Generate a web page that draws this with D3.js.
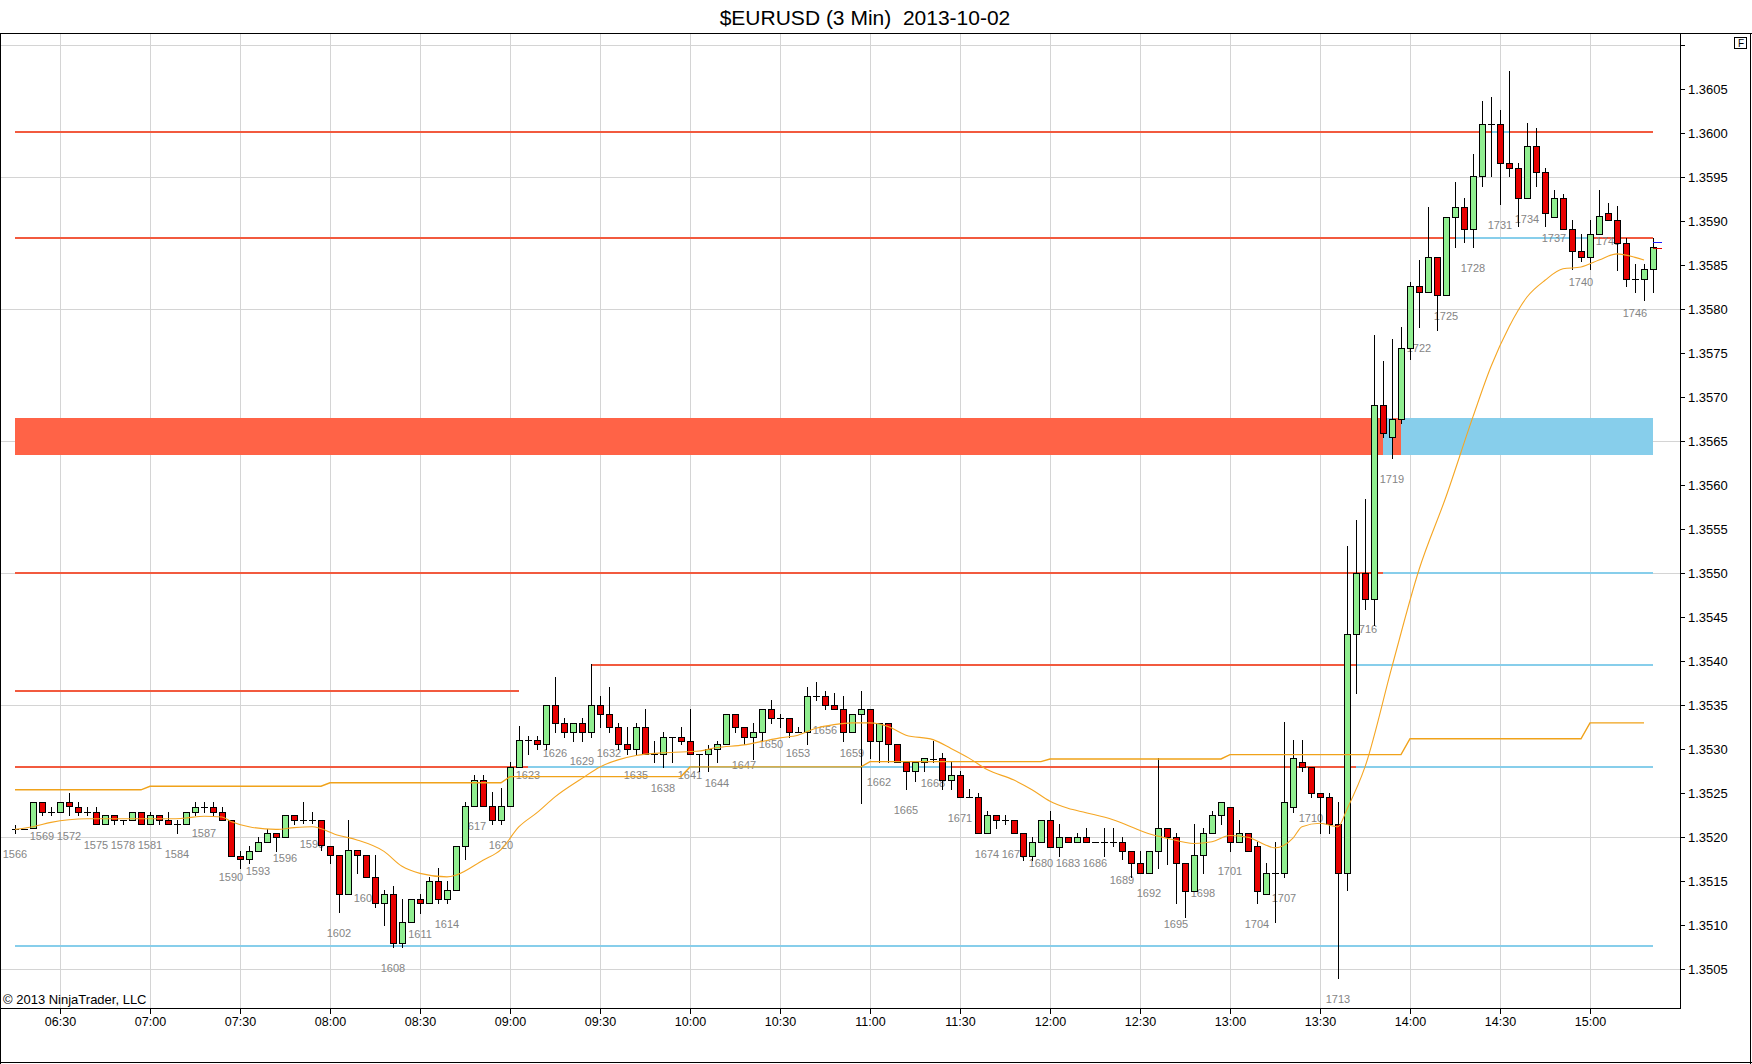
<!DOCTYPE html>
<html><head><meta charset="utf-8">
<script src="https://cdn.jsdelivr.net/npm/d3@7"></script>
<style>
html,body{margin:0;padding:0;background:#fff;}
svg{display:block;}
text{font-family:"Liberation Sans",Arial,sans-serif;}
</style></head><body>
<svg id="chart" width="1752" height="1064"></svg>
<script>
// ---------------- DATA ----------------
const title = "$EURUSD (3 Min)  2013-10-02";
const copyright = "\u00A9 2013 NinjaTrader, LLC";
const firstBar = 1566;
const firstBarTime = "2013-10-02 06:15";
const barMinutes = 3;

const open = [1.35209,1.35209,1.35210,1.35240,1.35229,1.35229,1.35240,1.35235,1.35229,1.35229,
1.35215,1.35225,1.35220,1.35220,1.35229,1.35215,1.35225,1.35220,1.35215,1.35215,
1.35229,1.35235,1.35235,1.35229,1.35220,1.35179,1.35175,1.35185,1.35195,1.35205,
1.35200,1.35225,1.35220,1.35220,1.35220,1.35190,1.35180,1.35135,1.35186,1.35180,
1.35155,1.35125,1.35135,1.35080,1.35104,1.35130,1.35125,1.35150,1.35130,1.35140,
1.35190,1.35236,1.35265,1.35236,1.35220,1.35236,1.35280,1.35311,1.35311,1.35306,
1.35350,1.35330,1.35320,1.35330,1.35320,1.35350,1.35340,1.35325,1.35306,1.35300,
1.35325,1.35295,1.35295,1.35314,1.35314,1.35310,1.35295,1.35295,1.35300,1.35306,
1.35340,1.35325,1.35314,1.35320,1.35346,1.35335,1.35335,1.35320,1.35320,1.35361,
1.35361,1.35350,1.35346,1.35320,1.35340,1.35346,1.35310,1.35330,1.35306,1.35285,
1.35275,1.35285,1.35289,1.35290,1.35265,1.35271,1.35246,1.35246,1.35205,1.35225,
1.35220,1.35220,1.35205,1.35179,1.35195,1.35220,1.35189,1.35200,1.35195,1.35200,
1.35195,1.35195,1.35195,1.35195,1.35185,1.35171,1.35160,1.35185,1.35210,1.35200,
1.35171,1.35139,1.35180,1.35205,1.35225,1.35235,1.35195,1.35205,1.35190,1.35135,
1.35160,1.35160,1.35235,1.35285,1.35280,1.35250,1.35246,1.35215,1.35160,1.35431,
1.35500,1.35471,1.35691,1.35655,1.35675,1.35756,1.35826,1.35820,1.35860,1.35816,
1.35905,1.35916,1.35891,1.35951,1.36011,1.36011,1.35966,1.35961,1.35926,1.35986,
1.35956,1.35905,1.35926,1.35891,1.35866,1.35860,1.35886,1.35910,1.35901,1.35875,
1.35835,1.35835,1.35846];

const high = [1.35214,1.35209,1.35240,1.35240,1.35235,1.35240,1.35250,1.35240,1.35235,1.35235,
1.35225,1.35225,1.35220,1.35229,1.35229,1.35229,1.35225,1.35229,1.35220,1.35229,
1.35240,1.35240,1.35240,1.35235,1.35220,1.35185,1.35190,1.35200,1.35209,1.35205,
1.35225,1.35225,1.35240,1.35229,1.35220,1.35190,1.35180,1.35220,1.35186,1.35180,
1.35180,1.35140,1.35145,1.35130,1.35130,1.35135,1.35155,1.35165,1.35150,1.35190,
1.35240,1.35271,1.35271,1.35251,1.35256,1.35286,1.35326,1.35315,1.35315,1.35350,
1.35382,1.35335,1.35330,1.35335,1.35397,1.35361,1.35371,1.35330,1.35325,1.35330,
1.35346,1.35310,1.35320,1.35314,1.35325,1.35346,1.35295,1.35305,1.35310,1.35340,
1.35340,1.35325,1.35330,1.35346,1.35356,1.35340,1.35335,1.35325,1.35371,1.35376,
1.35366,1.35364,1.35361,1.35340,1.35366,1.35346,1.35330,1.35330,1.35306,1.35285,
1.35285,1.35290,1.35310,1.35296,1.35285,1.35275,1.35255,1.35250,1.35230,1.35225,
1.35225,1.35220,1.35205,1.35200,1.35220,1.35230,1.35215,1.35200,1.35205,1.35210,
1.35195,1.35210,1.35210,1.35200,1.35185,1.35185,1.35185,1.35290,1.35210,1.35205,
1.35171,1.35215,1.35210,1.35230,1.35240,1.35235,1.35220,1.35205,1.35195,1.35171,
1.35195,1.35331,1.35311,1.35311,1.35280,1.35250,1.35250,1.35240,1.35531,1.35561,
1.35585,1.35771,1.35741,1.35766,1.35780,1.35831,1.35856,1.35916,1.35860,1.35905,
1.35945,1.35926,1.35977,1.36037,1.36041,1.36027,1.36071,1.35966,1.36012,1.36006,
1.35961,1.35936,1.35931,1.35902,1.35886,1.35902,1.35936,1.35921,1.35917,1.35881,
1.35852,1.35852,1.35881];

const low = [1.35205,1.35209,1.35210,1.35225,1.35225,1.35229,1.35225,1.35225,1.35225,1.35215,
1.35215,1.35215,1.35215,1.35220,1.35215,1.35215,1.35215,1.35215,1.35205,1.35215,
1.35225,1.35229,1.35225,1.35220,1.35179,1.35165,1.35171,1.35185,1.35195,1.35185,
1.35200,1.35215,1.35216,1.35216,1.35186,1.35171,1.35115,1.35135,1.35160,1.35155,
1.35121,1.35100,1.35075,1.35075,1.35104,1.35114,1.35125,1.35125,1.35125,1.35140,
1.35175,1.35236,1.35236,1.35215,1.35215,1.35236,1.35280,1.35295,1.35300,1.35300,
1.35320,1.35314,1.35310,1.35310,1.35314,1.35325,1.35320,1.35300,1.35295,1.35295,
1.35295,1.35285,1.35280,1.35285,1.35306,1.35295,1.35275,1.35275,1.35285,1.35306,
1.35320,1.35306,1.35289,1.35310,1.35330,1.35325,1.35314,1.35320,1.35306,1.35356,
1.35346,1.35346,1.35310,1.35320,1.35239,1.35290,1.35286,1.35286,1.35286,1.35255,
1.35264,1.35275,1.35285,1.35255,1.35255,1.35246,1.35246,1.35205,1.35205,1.35210,
1.35215,1.35205,1.35174,1.35174,1.35195,1.35189,1.35179,1.35195,1.35195,1.35195,
1.35195,1.35179,1.35190,1.35175,1.35155,1.35160,1.35160,1.35165,1.35170,1.35125,
1.35110,1.35139,1.35160,1.35205,1.35215,1.35185,1.35195,1.35185,1.35125,1.35135,
1.35104,1.35155,1.35229,1.35275,1.35246,1.35205,1.35205,1.35040,1.35140,1.35364,
1.35460,1.35441,1.35655,1.35631,1.35671,1.35744,1.35780,1.35820,1.35777,1.35816,
1.35871,1.35876,1.35871,1.35940,1.35951,1.35920,1.35951,1.35895,1.35926,1.35940,
1.35895,1.35905,1.35891,1.35846,1.35855,1.35846,1.35886,1.35901,1.35845,1.35826,
1.35820,1.35810,1.35820];

const close = [1.35209,1.35209,1.35240,1.35229,1.35229,1.35240,1.35236,1.35229,1.35229,1.35215,
1.35225,1.35220,1.35220,1.35229,1.35215,1.35225,1.35220,1.35215,1.35215,1.35229,
1.35235,1.35235,1.35229,1.35220,1.35179,1.35175,1.35185,1.35195,1.35205,1.35200,
1.35225,1.35220,1.35220,1.35220,1.35191,1.35180,1.35135,1.35186,1.35180,1.35155,
1.35125,1.35135,1.35080,1.35104,1.35130,1.35125,1.35150,1.35130,1.35140,1.35190,
1.35236,1.35265,1.35236,1.35220,1.35236,1.35280,1.35311,1.35311,1.35306,1.35350,
1.35330,1.35320,1.35330,1.35320,1.35350,1.35340,1.35325,1.35306,1.35300,1.35325,
1.35295,1.35295,1.35314,1.35314,1.35310,1.35295,1.35295,1.35300,1.35306,1.35340,
1.35325,1.35314,1.35320,1.35346,1.35335,1.35335,1.35320,1.35320,1.35361,1.35361,
1.35350,1.35346,1.35320,1.35340,1.35346,1.35310,1.35330,1.35306,1.35286,1.35275,
1.35285,1.35290,1.35289,1.35265,1.35271,1.35246,1.35246,1.35205,1.35225,1.35220,
1.35220,1.35205,1.35179,1.35195,1.35220,1.35189,1.35200,1.35195,1.35200,1.35195,
1.35195,1.35195,1.35195,1.35185,1.35171,1.35160,1.35185,1.35210,1.35200,1.35171,
1.35139,1.35180,1.35205,1.35225,1.35240,1.35195,1.35205,1.35185,1.35139,1.35160,
1.35160,1.35240,1.35290,1.35280,1.35250,1.35246,1.35215,1.35160,1.35431,1.35500,
1.35471,1.35691,1.35660,1.35675,1.35756,1.35826,1.35820,1.35860,1.35816,1.35905,
1.35916,1.35891,1.35951,1.36011,1.36011,1.35966,1.35961,1.35926,1.35986,1.35956,
1.35910,1.35926,1.35891,1.35866,1.35860,1.35886,1.35906,1.35901,1.35875,1.35835,
1.35835,1.35846,1.35871];

// moving average (at these bars)
const maBars = [1566,1568,1570,1572,1574,1579,1583,1585,1587,1589,
1590,1592,1595,1597,1599,1602,1604,1607,1609,1611,
1614,1615,1618,1620,1622,1624,1626,1629,1631,1633,
1635,1638,1640,1642,1644,1647,1649,1651,1653,1655,
1657,1659,1661,1663,1665,1668,1670,1672,1674,1677,
1679,1681,1683,1685,1688,1690,1692,1694,1697,1699,
1701,1703,1705,1706,1708,1709,1711,1713,1714,1716,
1719,1722,1725,1728,1730,1732,1734,1736,1738,1740,
1742,1744,1746,1747];
const maValues = [1.35209,1.35212,1.35217,1.35220,1.35221,1.35221,1.35221,1.35222,1.35224,1.35223,
1.35218,1.35212,1.35209,1.35211,1.35212,1.35202,1.35197,1.35184,1.35167,1.35159,
1.35155,1.35157,1.35174,1.35186,1.35212,1.35228,1.35246,1.35267,1.35280,1.35288,
1.35293,1.35296,1.35297,1.35298,1.35302,1.35305,1.35309,1.35313,1.35316,1.35324,
1.35328,1.35330,1.35330,1.35326,1.35316,1.35311,1.35301,1.35290,1.35277,1.35265,
1.35254,1.35241,1.35233,1.35228,1.35220,1.35212,1.35204,1.35199,1.35193,1.35195,
1.35202,1.35200,1.35191,1.35188,1.35199,1.35212,1.35216,1.35212,1.35232,1.35280,
1.35394,1.35504,1.35587,1.35678,1.35735,1.35780,1.35814,1.35833,1.35846,1.35848,
1.35856,1.35863,1.35859,1.35856];

// hourly step line
const stepStartBars = [1566,1581,1601,1621,1641,1661,1681,1701,1721,1741];
const stepValues = [1.35254,1.35258,1.35262,1.35269,1.35280,1.35286,1.35289,1.35294,1.35312,1.35330];
const stepEndBar = 1747;

// horizontal levels
const levelPrices = [1.36002,1.36002,1.35881,1.35881,1.35500,1.35500,1.35396,1.35396,1.35366,1.35280,1.35280,1.35280,1.35280,1.35076];
const levelFrom   = [1566,1730,1566,1726,1566,1718,1630,1715,1566,1566,1623,1670,1715,1566];
const levelTo     = [1748,1732,1748,1741,1718,1748,1715,1748,1622,1623,1670,1715,1748,1748];
const levelKinds  = ["res","sup","res","sup","res","sup","res","sup","res","res","sup","res","sup","sup"];

// zone
const zoneLow = 1.35635, zoneHigh = 1.35676;
const zoneFrom  = [1566,1718,1720];
const zoneTo    = [1720,1719,1748];
const zoneKinds = ["res","sup","sup"];

// last quote markers
const quotePrices = [1.35876,1.35870];
const quoteKinds = ["ask","bid"];

// axis
const yTickValues = [1.3505,1.3510,1.3515,1.3520,1.3525,1.3530,1.3535,1.3540,1.3545,1.3550,1.3555,1.3560,1.3565,1.3570,1.3575,1.3580,1.3585,1.3590,1.3595,1.3600,1.3605,1.3610];
const yTickLabels = ["1.3505","1.3510","1.3515","1.3520","1.3525","1.3530","1.3535","1.3540","1.3545","1.3550","1.3555","1.3560","1.3565","1.3570","1.3575","1.3580","1.3585","1.3590","1.3595","1.3600","1.3605",""];
const gridPrices = [1.3505,1.3520,1.3535,1.3550,1.3565,1.3580,1.3595,1.3610];

// ---------------- DRAW ----------------
const W = 1752, H = 1064;
const plotL = 1, plotT = 33, plotR = 1680, plotB = 1008;
const colors = {res:"#f25a3f", sup:"#87ceeb", zoneRes:"#ff6347", zoneSup:"#87ceeb",
  up:"#90ee90", down:"#e80000", ma:"#f5a623", step:"#f0a21a", ask:"#1a1aff", bid:"#e80000"};

const svg = d3.select("#chart");
svg.append("rect").attr("width",W).attr("height",H).attr("fill","#fff");

const parse = d3.timeParse("%Y-%m-%d %H:%M");
const t0 = parse(firstBarTime);
const barTime = b => d3.timeMinute.offset(t0, (b - firstBar) * barMinutes);
const lastBar = firstBar + open.length - 1;

const x = d3.scaleTime().domain([barTime(firstBar), barTime(lastBar)]).range([15, 1653]);
const y = d3.scaleLinear().domain([1.3505, 1.3605]).range([969.3, 89.3]);
const bx = b => Math.round(x(barTime(b)));

const bars = open.map((o,i) => ({num:firstBar+i, o, h:high[i], l:low[i], c:close[i]}));

// grid
const grid = svg.append("g").attr("shape-rendering","crispEdges");
const timeTicks = x.ticks(d3.timeMinute.every(30));
grid.selectAll("line.v").data(timeTicks).join("line")
  .attr("x1",d=>Math.round(x(d))+0.5).attr("x2",d=>Math.round(x(d))+0.5)
  .attr("y1",plotT).attr("y2",plotB).attr("stroke","#d4d4d4");
grid.selectAll("line.h").data(gridPrices).join("line")
  .attr("x1",plotL).attr("x2",plotR)
  .attr("y1",d=>Math.round(y(d))+0.5).attr("y2",d=>Math.round(y(d))+0.5).attr("stroke","#d4d4d4");

// zone bands
const zoneG = svg.append("g").attr("shape-rendering","crispEdges");
zoneG.selectAll("rect").data(zoneFrom.map((f,i)=>({f,t:zoneTo[i],k:zoneKinds[i]}))).join("rect")
  .attr("x",d=>bx(d.f)).attr("width",d=>bx(d.t)-bx(d.f))
  .attr("y",y(zoneHigh)).attr("height",y(zoneLow)-y(zoneHigh))
  .attr("fill",d=>d.k==="res"?colors.zoneRes:colors.zoneSup);

// level lines
const lvlG = svg.append("g").attr("shape-rendering","crispEdges");
lvlG.selectAll("line").data(levelPrices.map((p,i)=>({p,f:levelFrom[i],t:levelTo[i],k:levelKinds[i]}))).join("line")
  .attr("x1",d=>bx(d.f)).attr("x2",d=>bx(d.t))
  .attr("y1",d=>Math.round(y(d.p))).attr("y2",d=>Math.round(y(d.p)))
  .attr("stroke",d=>colors[d.k]).attr("stroke-width",2);

// bar number labels (every 3rd bar)
svg.append("g").selectAll("text").data(bars.filter(d=>(d.num-firstBar)%3===0)).join("text")
  .attr("x",d=>bx(d.num)).attr("y",d=>y(d.l)+21).attr("dy","0.35em")
  .attr("text-anchor","middle").attr("font-size","11px").attr("fill","#858585")
  .text(d=>d.num);

// candles
const cg = svg.append("g").attr("shape-rendering","crispEdges");
const candle = cg.selectAll("g").data(bars).join("g");
candle.append("line")
  .attr("x1",d=>bx(d.num)+0.5).attr("x2",d=>bx(d.num)+0.5)
  .attr("y1",d=>Math.round(y(d.h))).attr("y2",d=>Math.round(y(d.l))+1)
  .attr("stroke","#000");
candle.filter(d=>Math.abs(Math.round(y(d.o))-Math.round(y(d.c)))>=1).append("rect")
  .attr("x",d=>bx(d.num)-3+0.5).attr("width",6)
  .attr("y",d=>Math.round(y(Math.max(d.o,d.c)))+0.5)
  .attr("height",d=>Math.round(y(Math.min(d.o,d.c)))-Math.round(y(Math.max(d.o,d.c))))
  .attr("fill",d=>d.c>=d.o?colors.up:colors.down).attr("stroke","#000");
candle.filter(d=>Math.abs(Math.round(y(d.o))-Math.round(y(d.c)))<1).append("line")
  .attr("x1",d=>bx(d.num)-3).attr("x2",d=>bx(d.num)+4)
  .attr("y1",d=>Math.round(y(d.c))+0.5).attr("y2",d=>Math.round(y(d.c))+0.5)
  .attr("stroke","#000");

// step line
const stepPts = [];
stepStartBars.forEach((b,i)=>{
  if(i>0) stepPts.push([b-1, stepValues[i-1]]);
  stepPts.push([b, stepValues[i]]);
});
stepPts.push([stepEndBar, stepValues[stepValues.length-1]]);
svg.append("path").datum(stepPts)
  .attr("d", d3.line().x(d=>bx(d[0])).y(d=>y(d[1])))
  .attr("fill","none").attr("stroke",colors.step).attr("stroke-width",1.4);

// moving average
svg.append("path").datum(maBars.map((b,i)=>[b,maValues[i]]))
  .attr("d", d3.line().x(d=>x(barTime(d[0]))).y(d=>y(d[1])).curve(d3.curveMonotoneX))
  .attr("fill","none").attr("stroke",colors.ma).attr("stroke-width",1.1);

// last quote markers
svg.append("g").selectAll("line").data(quotePrices.map((p,i)=>({p,k:quoteKinds[i]}))).join("line")
  .attr("x1",bx(lastBar)).attr("x2",bx(lastBar)+9)
  .attr("y1",d=>Math.round(y(d.p))+0.5).attr("y2",d=>Math.round(y(d.p))+0.5)
  .attr("stroke",d=>colors[d.k]).attr("shape-rendering","crispEdges");

// axes
const xAxis = svg.append("g").attr("transform",`translate(0,${plotB})`)
  .call(d3.axisBottom(x).ticks(d3.timeMinute.every(30)).tickFormat(d3.timeFormat("%H:%M")).tickSize(6).tickSizeOuter(0));
xAxis.select(".domain").remove();
xAxis.selectAll("text").attr("font-size","12.5px").attr("fill","#000").attr("font-family",'"Liberation Sans",Arial,sans-serif');
xAxis.selectAll("line").attr("stroke","#000").attr("shape-rendering","crispEdges");

const yAxis = svg.append("g").attr("transform",`translate(${plotR},0)`)
  .call(d3.axisRight(y).tickValues(yTickValues).tickFormat((d,i)=>yTickLabels[i]).tickSize(5).tickSizeOuter(0));
yAxis.select(".domain").remove();
yAxis.selectAll("text").attr("font-size","13px").attr("fill","#000").attr("font-family",'"Liberation Sans",Arial,sans-serif');
yAxis.selectAll("line").attr("stroke","#000").attr("shape-rendering","crispEdges");

// frame
const frame = svg.append("g").attr("stroke","#000").attr("shape-rendering","crispEdges");
frame.append("line").attr("x1",0).attr("x2",W).attr("y1",33.5).attr("y2",33.5);
frame.append("line").attr("x1",0.5).attr("x2",0.5).attr("y1",33).attr("y2",H);
frame.append("line").attr("x1",W-1.5).attr("x2",W-1.5).attr("y1",33).attr("y2",H);
frame.append("line").attr("x1",0).attr("x2",W).attr("y1",H-1.5).attr("y2",H-1.5);
frame.append("line").attr("x1",0).attr("x2",plotR+1).attr("y1",plotB+0.5).attr("y2",plotB+0.5);
frame.append("line").attr("x1",plotR+0.5).attr("x2",plotR+0.5).attr("y1",33).attr("y2",plotB+1);

// F box
svg.append("rect").attr("x",1734.5).attr("y",37.5).attr("width",12).attr("height",11)
  .attr("fill","#fff").attr("stroke","#000").attr("shape-rendering","crispEdges");
svg.append("text").attr("x",1741).attr("y",47).attr("text-anchor","middle")
  .attr("font-size","10px").attr("fill","#000").text("F");

// title & copyright
svg.append("text").attr("x",865).attr("y",25).attr("text-anchor","middle")
  .attr("font-size","21px").attr("fill","#000").style("white-space","pre").text(title);
svg.append("text").attr("x",3).attr("y",1004).attr("font-size","13px").attr("fill","#000").text(copyright);
</script>
</body></html>
